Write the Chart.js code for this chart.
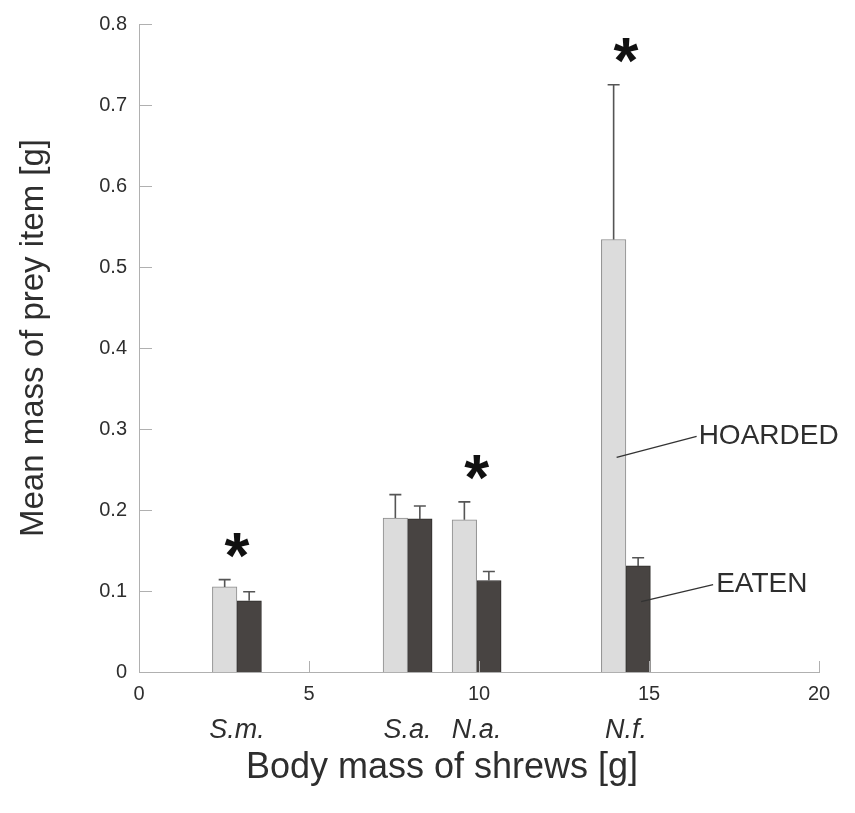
<!DOCTYPE html>
<html>
<head>
<meta charset="utf-8">
<script src="https://cdn.jsdelivr.net/npm/chart.js@4"></script>
<style>
  html, body { margin: 0; padding: 0; background: #ffffff; }
  #wrap { width: 855px; height: 813px; }
</style>
</head>
<body>
<div id="wrap"><canvas id="c" width="855" height="813"></canvas></div>
<script>
// ---- data ----
const species = ['S.m.', 'S.a.', 'N.a.', 'N.f.'];
const bodyMass = [2.88, 7.9, 9.93, 14.32];
const hoarded = [0.105, 0.190, 0.188, 0.534];
const hoardedSE = [0.009, 0.029, 0.022, 0.191];
const eaten = [0.088, 0.189, 0.113, 0.131];
const eatenSE = [0.011, 0.016, 0.011, 0.010];
const significant = [true, false, true, true];
const xTicks = [0, 5, 10, 15, 20];
const yTicks = [0, 0.1, 0.2, 0.3, 0.4, 0.5, 0.6, 0.7, 0.8];
const seriesNames = ['HOARDED', 'EATEN'];

const TEXT = '#2e2e2e';
const FONT = '"Liberation Sans", Arial, Helvetica, sans-serif';

const overlay = {
  id: 'overlay',
  afterDatasetsDraw(chart) {
    const ctx = chart.ctx;
    const xs = chart.scales.x, ys = chart.scales.y;
    const ca = chart.chartArea;
    ctx.save();
    // inward tick marks
    ctx.strokeStyle = '#b0b0b0';
    ctx.lineWidth = 1;
    yTicks.forEach(v => {
      const y = Math.round(ys.getPixelForValue(v)) + 0.5;
      ctx.beginPath(); ctx.moveTo(ca.left, y); ctx.lineTo(ca.left + 13, y); ctx.stroke();
    });
    xTicks.forEach(v => {
      if (v === 0) return;
      const x = Math.round(xs.getPixelForValue(v)) + 0.5;
      ctx.beginPath(); ctx.moveTo(x, ca.bottom); ctx.lineTo(x, ca.bottom - 11); ctx.stroke();
    });
    // error bars
    const seArr = [hoardedSE, eatenSE];
    const valArr = [hoarded, eaten];
    ctx.strokeStyle = '#555555';
    ctx.lineWidth = 1.6;
    chart.data.datasets.forEach((ds, di) => {
      const meta = chart.getDatasetMeta(di);
      meta.data.forEach((bar, i) => {
        const yTop = ys.getPixelForValue(valArr[di][i] + seArr[di][i]);
        ctx.beginPath();
        ctx.moveTo(bar.x, bar.y);
        ctx.lineTo(bar.x, yTop);
        ctx.moveTo(bar.x - 6, yTop);
        ctx.lineTo(bar.x + 6, yTop);
        ctx.stroke();
      });
    });
    // significance asterisks
    ctx.fillStyle = '#111111';
    ctx.font = 'bold 64px ' + FONT;
    ctx.textAlign = 'center';
    ctx.textBaseline = 'alphabetic';
    bodyMass.forEach((m, i) => {
      if (!significant[i]) return;
      const top = Math.min(ys.getPixelForValue(hoarded[i] + hoardedSE[i]), ys.getPixelForValue(eaten[i] + eatenSE[i]));
      const cy = top - 35;
      ctx.fillText('*', xs.getPixelForValue(m), cy + 33);
    });
    // series labels with leader lines (attached to last group)
    const last = bodyMass.length - 1;
    const hBar = chart.getDatasetMeta(0).data[last];
    const eBar = chart.getDatasetMeta(1).data[last];
    ctx.strokeStyle = '#333333';
    ctx.lineWidth = 1.3;
    ctx.fillStyle = TEXT;
    ctx.font = '28px ' + FONT;
    ctx.textAlign = 'left';
    ctx.textBaseline = 'middle';
    let y0 = ys.getPixelForValue(0.265);
    ctx.beginPath(); ctx.moveTo(hBar.x + 3, y0); ctx.lineTo(hBar.x + 83, y0 - 21); ctx.stroke();
    ctx.fillText(seriesNames[0], hBar.x + 85, y0 - 21);
    y0 = ys.getPixelForValue(0.087);
    ctx.beginPath(); ctx.moveTo(eBar.x + 3, y0); ctx.lineTo(eBar.x + 75, y0 - 17); ctx.stroke();
    ctx.fillText(seriesNames[1], eBar.x + 78, y0 - 17);
    // species labels
    ctx.font = 'italic 27px ' + FONT;
    ctx.textAlign = 'center';
    ctx.textBaseline = 'middle';
    bodyMass.forEach((m, i) => {
      ctx.fillText(species[i], xs.getPixelForValue(m), 730);
    });
    // axis titles
    ctx.font = '36px ' + FONT;
    ctx.fillText('Body mass of shrews [g]', 442, 768);
    ctx.translate(34, 338);
    ctx.rotate(-Math.PI / 2);
    ctx.font = '33px ' + FONT;
    ctx.fillText('Mean mass of prey item [g]', 0, 0);
    ctx.restore();
  }
};

new Chart(document.getElementById('c'), {
  type: 'bar',
  data: {
    datasets: [
      {
        label: seriesNames[0],
        data: bodyMass.map((m, i) => ({ x: m, y: hoarded[i] })),
        backgroundColor: '#dcdcdc',
        borderColor: '#8c8c8c',
        borderWidth: 1,
        barThickness: 24.5
      },
      {
        label: seriesNames[1],
        data: bodyMass.map((m, i) => ({ x: m, y: eaten[i] })),
        backgroundColor: '#484442',
        borderColor: '#2f2c2b',
        borderWidth: 1,
        barThickness: 24.5
      }
    ]
  },
  options: {
    responsive: false,
    animation: false,
    layout: { padding: { left: 0, right: 36, top: 20, bottom: 0 } },
    plugins: { legend: { display: false }, tooltip: { enabled: false } },
    scales: {
      x: {
        type: 'linear',
        offset: false,
        min: 0, max: 20,
        afterBuildTicks: s => { s.ticks = xTicks.map(v => ({ value: v })); },
        afterFit: s => { s.height = 141; },
        grid: { display: false, drawTicks: false, offset: false },
        border: { display: true, color: '#b0b0b0', width: 1 },
        ticks: { color: TEXT, font: { family: FONT, size: 20 }, padding: 10, maxRotation: 0 }
      },
      y: {
        min: 0, max: 0.8,
        afterBuildTicks: s => { s.ticks = yTicks.map(v => ({ value: v })); },
        afterFit: s => { s.width = 139; },
        grid: { display: false, drawTicks: false },
        border: { display: true, color: '#b0b0b0', width: 1 },
        ticks: {
          color: TEXT, font: { family: FONT, size: 20 }, padding: 12,
          callback: v => (v === 0 ? '0' : v.toFixed(1))
        }
      }
    }
  },
  plugins: [overlay]
});
</script>
</body>
</html>
